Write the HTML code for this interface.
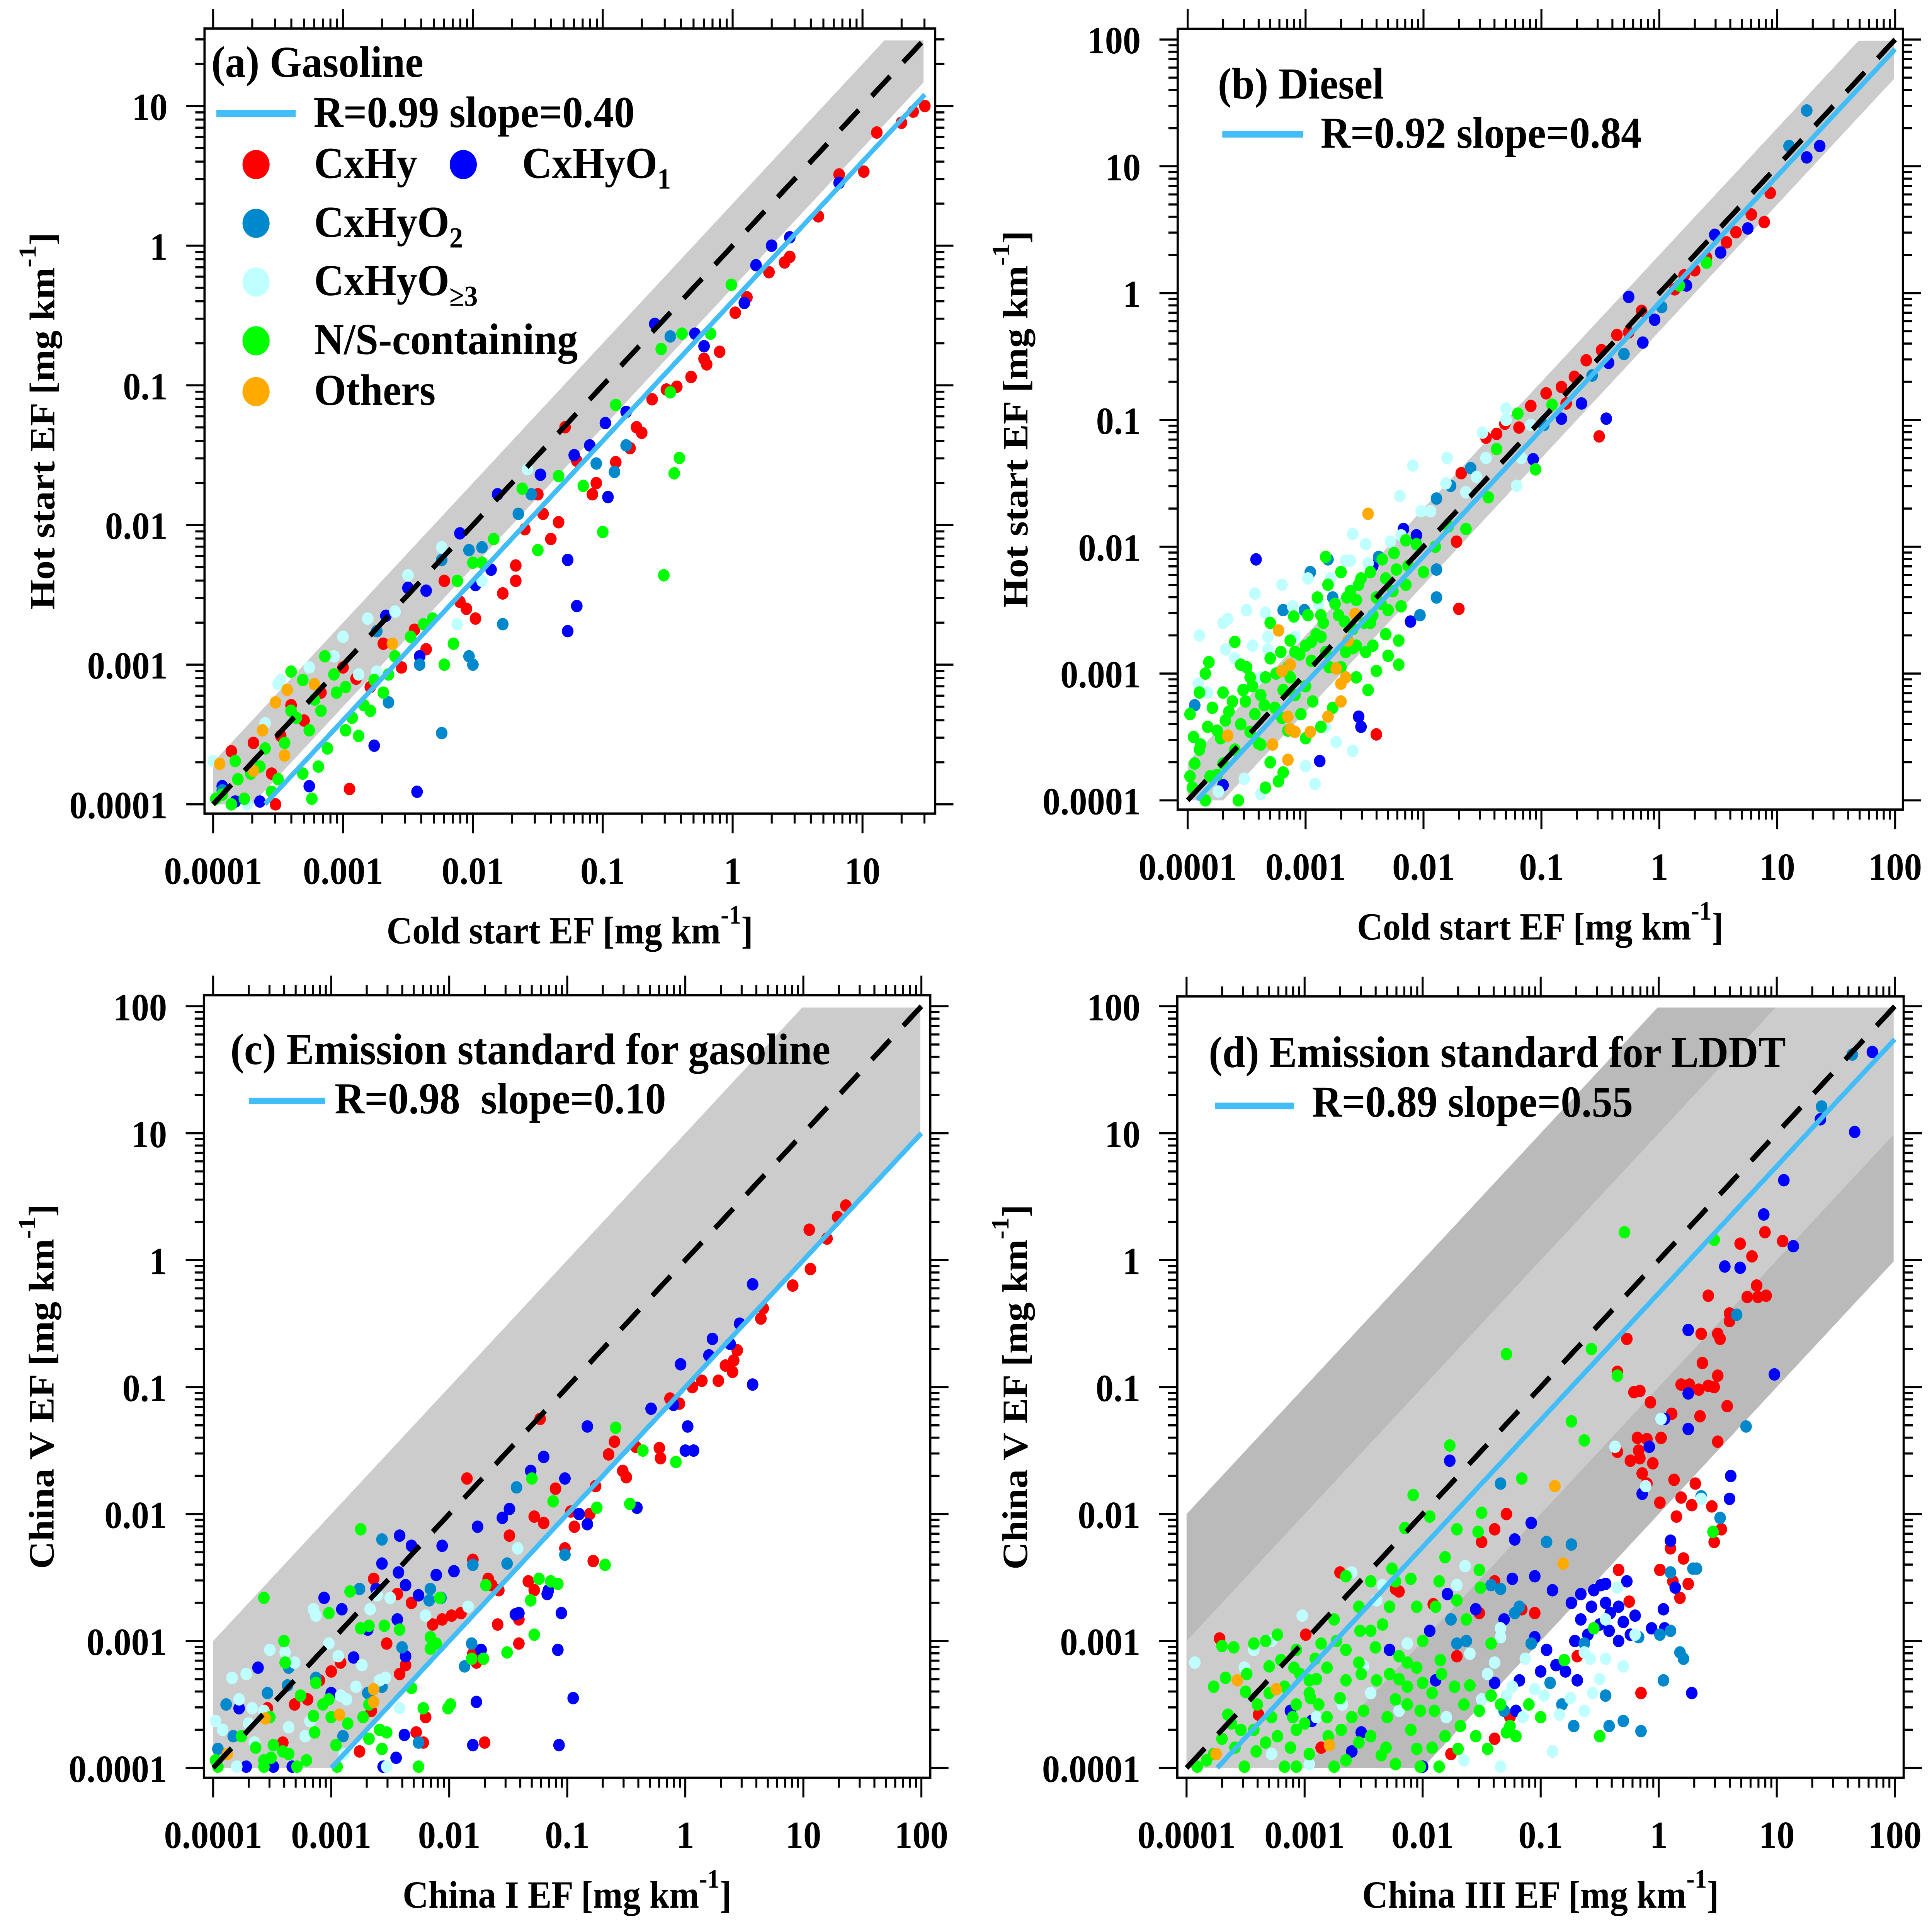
<!DOCTYPE html>
<html><head><meta charset="utf-8"><title>Hot vs cold start and emission standard EF comparison</title>
<style>
html,body{margin:0;padding:0;background:#fff;width:100%;height:100%;overflow:hidden;}
svg#chart{display:block;position:fixed;left:0;top:0;width:100vw;height:100vh;}
text{font-family:"Liberation Serif","Times New Roman",serif;font-weight:bold;fill:#000;}
</style></head>
<body>
<svg id="chart" xmlns="http://www.w3.org/2000/svg" viewBox="0 0 1568 1458" preserveAspectRatio="none">
<rect x="0" y="0" width="1568" height="1458" fill="#fff"/>
<g id="plots"></g>
<g id="legends">
  <text x="171.5" y="58" font-size="33.5">(a) Gasoline</text>
  <line x1="175.6" y1="85.6" x2="240" y2="85.6" stroke="#42bdf8" stroke-width="5"/>
  <text x="254.5" y="96" font-size="33.5">R=0.99 slope=0.40</text>
  <circle cx="207.8" cy="124.2" r="11" fill="#ff0000"/>
  <text x="254.9" y="134.3" font-size="33.5">CxHy</text>
  <circle cx="376" cy="124.2" r="11" fill="#0000ff"/>
  <text x="423.7" y="134.3" font-size="33.5">CxHyO<tspan font-size="22" dy="8">1</tspan></text>
  <circle cx="207.8" cy="168.5" r="11" fill="#0088cc"/>
  <text x="254.9" y="178.7" font-size="33.5">CxHyO<tspan font-size="22" dy="8">2</tspan></text>
  <circle cx="207.8" cy="212.9" r="11" fill="#c0ffff"/>
  <text x="254.9" y="222.8" font-size="33.5">CxHyO<tspan font-size="22" dy="8">≥3</tspan></text>
  <circle cx="207.8" cy="257.2" r="11" fill="#00ff00"/>
  <text x="254.9" y="267.2" font-size="33.5">N/S-containing</text>
  <circle cx="207.8" cy="295.5" r="11" fill="#ffaa00"/>
  <text x="254.9" y="305.6" font-size="33.5">Others</text>

  <text x="988.4" y="74.3" font-size="33.5">(b) Diesel</text>
  <line x1="992" y1="101.3" x2="1057.6" y2="101.3" stroke="#42bdf8" stroke-width="5"/>
  <text x="1071.8" y="111.5" font-size="33.5">R=0.92 slope=0.84</text>

  <text x="187" y="803" font-size="33.5">(c) Emission standard for gasoline</text>
  <line x1="201.9" y1="830.9" x2="264" y2="830.9" stroke="#42bdf8" stroke-width="5"/>
  <text x="271.6" y="840.2" font-size="33.5" xml:space="preserve">R=0.98  slope=0.10</text>

  <text x="981" y="805.3" font-size="33.5">(d) Emission standard for LDDT</text>
  <line x1="986" y1="834.6" x2="1050" y2="834.6" stroke="#42bdf8" stroke-width="5"/>
  <text x="1064.8" y="842.7" font-size="33.5">R=0.89 slope=0.55</text>
</g>
</svg>
<script>
// ---------- DATA (log10 of EF values, mg km-1) ----------
const tickLabels = ['0.0001','0.001','0.01','0.1','1','10','100'];
const categoryNames = ['cxhy','cxhyo1','cxhyo2','cxhyo3','ns-containing','others'];
const categoryColors = ['#ff0000','#0000ff','#0088cc','#c0ffff','#00ff00','#ffaa00'];
const fitSlopes = [0.40, 0.84, 0.10, 0.55];
const fitStartLogX = [-3.6, -3.92, -3.0, -3.74];
const axisMaxLog = [1.56, 2.08, 2.08, 2.08];
const xTitles = ['Cold start EF [mg km', 'Cold start EF [mg km', 'China I EF [mg km', 'China III EF [mg km'];
const yTitles = ['Hot start EF [mg km', 'Hot start EF [mg km', 'China V EF [mg km', 'China V EF [mg km'];

// Panel (a) Gasoline
const aCxHy = [[1.48,1.0],[1.39,0.96],[1.3,0.88],[1.11,0.81],[1.01,0.53],[0.82,0.51],[0.66,0.21],[0.44,-0.08],[0.4,-0.12],[0.28,-0.19],[0.11,-0.37],[0.02,-0.48],[-0.1,-0.76],[-0.22,-0.81],[-0.32,-0.94],[-0.2,-0.85],[-0.43,-1.01],[-0.51,-1.03],[-0.7,-1.34],[-0.74,-1.3],[-0.79,-1.45],[-1.05,-1.7],[-1.08,-1.78],[-1.2,-1.54],[-1.29,-1.3],[-1.34,-1.98],[-1.46,-1.92],[-1.5,-1.78],[-1.6,-2.03],[-1.67,-2.4],[-1.67,-2.29],[-1.77,-2.49],[-1.98,-2.67],[-2.05,-2.6],[-2.22,-2.4],[-2.36,-2.89],[-2.55,-3.02],[-2.69,-2.85],[-2.79,-3.16],[-2.95,-3.89],[-3.0,-3.02],[-3.17,-3.2],[-3.4,-3.29],[-3.55,-3.78],[-3.69,-3.56],[-3.86,-3.62],[-3.52,-4.0],[-3.48,-3.51],[-0.62,-1.1],[-0.9,-1.55],[-1.4,-2.1],[-2.1,-2.55],[-2.45,-2.75],[-2.9,-3.1],[-3.3,-3.4]];
const aCxHyO1 = [[0.82,0.45],[0.44,0.06],[0.3,0.0],[0.18,-0.14],[0.09,-0.41],[-0.22,-0.72],[-0.29,-0.63],[-0.6,-0.56],[-0.82,-1.19],[-0.98,-1.27],[-1.1,-1.43],[-1.22,-1.5],[-1.27,-2.25],[-1.2,-2.58],[-1.27,-2.76],[-0.96,-1.8],[-1.48,-1.64],[-1.81,-1.78],[-1.86,-2.32],[-2.1,-2.06],[-1.98,-2.43],[-2.36,-2.47],[-2.5,-2.45],[-2.67,-2.65],[-2.41,-2.94],[-2.43,-3.91],[-2.76,-3.58],[-2.93,-3.38],[-3.93,-3.87],[-3.83,-3.98],[-3.26,-3.87],[-3.64,-3.98]];
const aCxHyO2 = [[-0.48,-0.65],[-0.82,-1.43],[-0.91,-1.62],[-1.05,-1.56],[-1.55,-1.78],[-1.65,-1.92],[-1.93,-2.16],[-2.03,-2.18],[-2.24,-2.25],[-2.0,-3.0],[-2.03,-2.94],[-2.24,-3.49],[-2.65,-3.27],[-2.41,-3.0],[-1.77,-2.71],[-2.74,-2.76],[-3.93,-3.9]];
const aCxHyO3 = [[-1.58,-1.6],[-2.24,-2.16],[-2.5,-2.36],[-2.81,-2.67],[-3.0,-2.8],[-3.07,-2.94],[-3.26,-3.02],[-3.48,-3.11],[-3.5,-3.14],[-2.88,-3.07],[-2.12,-2.71],[-4.0,-3.69],[-3.74,-4.0],[-3.6,-3.42],[-2.74,-3.05],[-2.6,-2.62],[-1.93,-2.4]];
const aNS = [[-0.01,-0.28],[-0.17,-0.63],[-0.39,-0.63],[-0.48,-1.05],[-0.55,-0.74],[-0.9,-1.14],[-0.41,-1.52],[-0.45,-1.63],[-0.53,-2.36],[-1.0,-2.05],[-1.15,-1.72],[-1.5,-2.18],[-1.62,-1.74],[-1.34,-1.65],[-1.84,-2.1],[-1.93,-2.27],[-2.0,-2.27],[-2.12,-2.4],[-2.15,-2.85],[-2.22,-3.0],[-2.31,-2.67],[-2.38,-2.71],[-2.48,-2.8],[-2.6,-2.94],[-2.65,-3.07],[-2.76,-3.11],[-2.84,-3.29],[-2.93,-3.38],[-2.98,-3.47],[-3.07,-3.07],[-3.12,-3.6],[-3.17,-3.33],[-3.22,-3.25],[-3.26,-3.47],[-3.31,-3.78],[-3.36,-3.38],[-3.4,-3.05],[-3.45,-3.56],[-3.5,-3.82],[-3.55,-3.91],[-3.6,-3.6],[-3.64,-3.73],[-3.71,-3.78],[-3.76,-3.96],[-3.81,-3.82],[-3.86,-4.0],[-3.93,-3.93],[-3.98,-3.96],[-3.83,-3.69],[-3.24,-3.96],[-3.19,-3.73],[-3.05,-3.2],[-2.98,-3.16],[-2.88,-3.51],[-2.79,-3.33],[-2.69,-3.2],[-3.4,-3.33],[-3.31,-3.11],[-3.14,-2.94]];
const aOthers = [[-3.52,-3.27],[-3.43,-3.18],[-3.22,-3.14],[-3.95,-3.71],[-3.62,-3.47],[-3.45,-3.65],[-2.62,-2.85],[-3.69,-3.76]];

// Panel (b) Diesel
const bCxHy = [[0.94,0.79],[0.78,0.62],[0.89,0.56],[0.65,0.48],[0.57,0.4],[0.4,0.28],[0.3,0.18],[0.21,0.14],[0.13,0.03],[-0.15,-0.14],[-0.26,-0.31],[-0.36,-0.33],[-0.49,-0.45],[-0.62,-0.53],[-0.72,-0.66],[-0.83,-0.74],[-0.79,-0.87],[-0.96,-0.79],[-1.09,-0.89],[-0.51,-1.13],[-1.31,-1.03],[-1.38,-1.11],[-1.47,-1.14],[-1.19,-1.06],[-1.68,-1.42],[-1.72,-1.96],[-1.7,-2.49],[-2.4,-3.48]];
const bCxHyO1 = [[1.36,1.16],[1.25,1.07],[0.75,0.51],[0.47,0.46],[0.52,0.32],[0.23,0.06],[-0.04,-0.21],[-0.26,-0.03],[-0.14,-0.39],[-0.43,-0.55],[-0.66,-0.87],[-0.45,-0.99],[-0.83,-0.99],[-1.07,-1.31],[-2.06,-1.91],[-2.17,-1.86],[-2.43,-2.15],[-2.11,-2.59],[-2.53,-3.42],[-2.55,-3.34],[-3.42,-2.1],[-3.7,-3.88],[-2.88,-3.69]];
const bCxHyO2 = [[1.25,1.44],[1.1,1.16],[0.02,-0.11],[-0.3,-0.48],[-0.57,-0.65],[-0.98,-1.04],[-1.6,-1.38],[-1.77,-1.52],[-1.89,-1.62],[-1.89,-2.18],[-1.89,-2.4],[-2.38,-2.08],[-2.03,-2.54],[-2.77,-2.4],[-3.94,-3.25],[-3.19,-2.5],[-3.01,-2.5],[-2.96,-2.2],[-2.81,-2.1]];
const bCxHyO3 = [[-1.3,-0.91],[-1.09,-1.04],[-1.17,-1.3],[-1.21,-1.52],[-1.47,-1.3],[-1.55,-1.45],[-1.64,-1.57],[-1.81,-1.5],[-2.09,-1.36],[-2.02,-1.72],[-1.94,-1.72],[-2.19,-1.91],[-2.28,-1.96],[-2.47,-2.13],[-2.49,-1.98],[-2.66,-2.11],[-2.62,-2.11],[-2.79,-2.25],[-2.6,-3.61],[-3.32,-2.81],[-3.38,-3.03],[-3.45,-2.78],[-3.34,-2.52],[-3.43,-2.37],[-3.68,-2.81],[-3.66,-2.57],[-3.6,-2.88],[-3.74,-3.93],[-3.38,-3.95],[-3.52,-3.83],[-3.91,-3.08],[-3.83,-3.15],[-3.11,-2.47],[-2.89,-2.45],[-2.98,-2.25],[-3.09,-2.71],[-3.32,-2.71],[-2.83,-3.42],[-3.0,-3.73],[-2.92,-3.87],[-2.74,-3.54],[-3.9,-2.7],[-3.7,-2.6],[-3.5,-2.5],[-3.2,-2.3],[-2.6,-1.9],[-2.2,-1.6],[-1.8,-1.3],[-1.5,-1.1],[-1.3,-1.0]];
const bNS = [[0.4,0.24],[0.17,0.06],[-0.91,-0.88],[-1.2,-0.95],[-1.05,-1.39],[-1.38,-1.23],[-1.45,-1.61],[-1.64,-1.86],[-1.79,-1.84],[-2.06,-1.98],[-2.13,-2.15],[-2.23,-2.18],[-2.32,-2.25],[-2.15,-2.3],[-2.26,-2.35],[-2.19,-2.47],[-2.36,-2.45],[-2.43,-2.54],[-2.53,-2.25],[-2.57,-2.42],[-2.62,-2.35],[-2.67,-2.59],[-2.72,-2.54],[-2.83,-2.08],[-2.81,-2.3],[-2.87,-2.54],[-2.91,-2.69],[-2.83,-2.83],[-2.66,-2.83],[-2.57,-2.78],[-2.49,-2.83],[-2.43,-2.78],[-2.32,-2.69],[-2.21,-2.74],[-2.21,-2.93],[-2.3,-2.86],[-2.4,-2.98],[-2.47,-3.13],[-2.57,-3.03],[-2.77,-3.27],[-2.87,-3.42],[-2.94,-3.22],[-3.0,-3.51],[-3.04,-3.32],[-3.09,-3.17],[-3.13,-3.03],[-3.09,-2.83],[-3.0,-2.78],[-3.13,-2.74],[-3.19,-3.13],[-3.26,-3.27],[-3.3,-2.88],[-3.34,-3.03],[-3.38,-3.17],[-3.43,-3.32],[-3.19,-3.78],[-3.23,-3.85],[-3.34,-3.9],[-3.38,-3.56],[-3.47,-3.46],[-3.55,-2.93],[-3.53,-3.13],[-3.62,-3.22],[-3.68,-3.37],[-3.72,-3.51],[-3.79,-3.27],[-3.83,-3.42],[-3.89,-3.56],[-3.94,-3.71],[-3.98,-3.81],[-3.96,-3.9],[-3.85,-4.0],[-3.81,-3.81],[-3.7,-3.71],[-3.57,-4.0],[-3.82,-2.91],[-3.98,-3.32],[-3.51,-3.22],[-3.47,-3.03],[-2.98,-2.54],[-3.21,-2.83],[-2.87,-2.71],[-2.6,-2.65],[-2.7,-2.95],[-2.5,-2.6],[-2.0,-2.2],[-1.9,-2.0],[-2.4,-2.4],[-2.95,-2.9],[-3.15,-3.45],[-3.6,-3.6],[-3.3,-3.7],[-3.9,-3.6],[-3.75,-3.45],[-3.65,-3.3],[-3.55,-3.4],[-3.45,-3.1],[-3.35,-3.25],[-3.25,-3.0],[-3.15,-2.95],[-3.05,-2.85],[-2.95,-2.75],[-2.85,-2.6],[-2.75,-2.45],[-2.65,-2.4],[-2.55,-2.3],[-2.45,-2.2],[-2.35,-2.1],[-2.25,-2.05],[-2.15,-1.95],[-3.7,-3.15],[-3.5,-2.95],[-3.3,-2.6],[-3.1,-2.55],[-2.9,-2.4],[-2.7,-2.2],[-3.85,-3.0],[-3.6,-2.75],[-3.4,-3.55],[-3.2,-3.35],[-3.0,-3.1],[-2.8,-2.95],[-2.6,-2.8],[-2.45,-2.6],[-2.3,-2.5],[-3.95,-3.5],[-3.75,-3.8],[-3.9,-3.15]];
const bOthers = [[-2.47,-1.74],[-2.58,-2.53],[-2.64,-2.74],[-2.74,-2.96],[-2.7,-3.08],[-2.66,-3.03],[-2.7,-3.22],[-2.81,-3.34],[-2.96,-3.46],[-3.13,-2.93],[-3.2,-2.98],[-3.15,-3.34],[-3.09,-3.46],[-3.15,-3.68],[-3.28,-3.56],[-3.66,-3.49],[-3.23,-2.66],[-3.13,-3.44]];

// Panel (c) Emission standard for gasoline
const cCxHy = [[1.36,0.43],[1.29,0.34],[1.2,0.17],[1.05,0.24],[1.06,-0.07],[0.91,-0.2],[0.66,-0.38],[0.64,-0.46],[0.44,-0.71],[0.41,-0.79],[0.4,-0.88],[0.34,-0.83],[0.28,-0.95],[0.14,-0.95],[0.06,-1.0],[-0.05,-1.13],[-0.13,-1.09],[-0.21,-1.56],[-0.22,-1.48],[-0.42,-1.47],[-0.5,-1.71],[-0.53,-1.66],[-0.6,-1.43],[-0.65,-1.53],[-0.76,-1.78],[-0.81,-2.0],[-0.78,-2.37],[-0.94,-2.1],[-0.97,-1.98],[-1.02,-2.27],[-1.1,-1.8],[-1.2,-2.07],[-1.28,-2.02],[-1.33,-2.53],[-1.28,-2.6],[-1.41,-3.02],[-1.41,-2.83],[-1.49,-2.17],[-1.58,-2.6],[-1.59,-2.87],[-1.64,-2.56],[-1.67,-2.51],[-1.7,-3.8],[-1.77,-3.17],[-1.8,-3.1],[-1.85,-1.72],[-1.8,-2.36],[-1.9,-2.78],[-1.98,-2.8],[-2.06,-2.83],[-2.14,-2.87],[-2.2,-3.6],[-2.22,-3.8],[-2.28,-3.72],[-2.32,-2.7],[-2.37,-3.19],[-2.42,-3.26],[-2.44,-2.63],[-2.53,-3.02],[-2.64,-2.51],[-2.68,-3.41],[-2.76,-3.87],[-2.66,-3.55],[-2.92,-3.17],[-3.0,-3.24],[-3.2,-3.46],[-3.31,-3.5],[-3.41,-3.8],[-3.54,-3.53],[-3.1,-3.31],[-1.23,-1.25]];
const cCxHyO1 = [[0.57,-0.19],[0.46,-0.5],[0.38,-0.66],[0.23,-0.62],[0.2,-0.75],[-0.04,-0.82],[-0.1,-1.14],[-0.29,-1.17],[0.02,-1.31],[0.0,-1.5],[0.07,-1.5],[-0.41,-1.95],[0.57,-0.98],[-0.83,-1.31],[-0.9,-2.0],[-0.83,-2.08],[-1.02,-1.72],[-1.16,-2.6],[-1.2,-1.55],[-1.31,-1.66],[-1.49,-1.96],[-1.55,-2.03],[-1.76,-2.1],[-1.41,-2.78],[-1.17,-2.63],[-1.05,-2.78],[-1.08,-3.07],[-1.07,-3.82],[-0.95,-3.45],[-1.44,-2.79],[-1.73,-3.07],[-1.77,-3.48],[-1.8,-3.82],[-1.96,-2.45],[-2.06,-2.25],[-2.11,-2.48],[-2.26,-2.64],[-2.32,-2.25],[-2.37,-2.56],[-2.42,-2.17],[-2.43,-2.46],[-2.37,-3.12],[-2.44,-2.83],[-2.57,-2.39],[-2.62,-2.59],[-2.69,-2.91],[-2.81,-3.13],[-2.91,-2.75],[-3.06,-2.66],[-3.0,-3.41],[-2.45,-3.92],[-2.56,-3.99],[-2.38,-3.74],[-3.33,-3.99],[-3.49,-3.99],[-3.72,-3.99],[-3.78,-3.53],[-3.62,-3.21]];
const cCxHyO2 = [[-1.43,-1.79],[-1.51,-2.39],[-1.8,-2.4],[-1.87,-3.2],[-2.07,-2.66],[-2.16,-2.59],[-2.26,-3.8],[-2.4,-3.05],[-2.57,-2.2],[-2.57,-3.36],[-2.69,-3.41],[-2.76,-2.59],[-2.9,-3.75],[-3.37,-3.35],[-3.54,-3.41],[-3.83,-3.75],[-3.89,-3.5],[-3.96,-3.85],[-3.36,-3.21],[-3.13,-3.29],[-1.02,-2.32],[-1.81,-3.02],[-2.17,-2.68]];
const cCxHyO3 = [[-3.98,-3.63],[-3.92,-3.7],[-3.84,-3.29],[-3.72,-3.26],[-3.78,-3.46],[-3.7,-3.65],[-3.65,-3.8],[-3.8,-3.99],[-3.67,-3.53],[-3.57,-3.55],[-3.52,-3.07],[-3.39,-3.09],[-3.31,-3.17],[-3.15,-2.75],[-3.13,-2.8],[-3.02,-3.02],[-2.94,-3.12],[-2.92,-3.43],[-2.87,-3.46],[-2.79,-3.36],[-2.74,-3.19],[-2.67,-2.75],[-2.61,-2.64],[-2.5,-2.66],[-2.54,-3.29],[-2.59,-3.31],[-2.42,-3.53],[-2.2,-2.8],[-2.13,-3.02],[-2.53,-3.99],[-2.89,-3.89],[-3.22,-3.75],[-1.42,-2.27],[-1.84,-2.73],[-3.36,-3.68],[-3.18,-3.63]];
const cNS = [[-0.59,-1.32],[-0.08,-1.59],[-0.47,-1.92],[-0.75,-1.95],[-0.68,-2.4],[-0.36,-1.5],[-1.12,-1.9],[-1.3,-1.72],[-1.24,-2.51],[-1.14,-2.53],[-1.08,-2.55],[-1.31,-2.68],[-1.28,-2.95],[-1.51,-3.09],[-1.69,-2.56],[-1.71,-3.14],[-1.81,-3.14],[-1.99,-3.5],[-2.01,-3.53],[-2.11,-3.02],[-2.16,-2.97],[-2.08,-2.66],[-2.22,-3.53],[-2.26,-3.99],[-2.57,-3.85],[-2.53,-3.72],[-2.59,-3.7],[-2.68,-3.77],[-2.73,-3.6],[-2.86,-3.65],[-2.84,-2.61],[-2.95,-3.99],[-2.96,-3.82],[-3.0,-3.6],[-3.02,-3.46],[-3.13,-3.33],[-3.14,-3.72],[-3.21,-3.94],[-3.29,-3.99],[-3.36,-3.89],[-3.41,-3.87],[-3.49,-3.82],[-3.51,-3.92],[-3.57,-3.99],[-3.57,-3.94],[-3.39,-3.17],[-3.4,-3.0],[-3.52,-3.6],[-3.64,-3.84],[-3.76,-3.75],[-3.98,-3.94],[-3.96,-3.99],[-3.57,-2.66],[-3.15,-3.59],[-3.07,-3.5],[-2.75,-2.9],[-2.68,-2.88],[-2.55,-2.88],[-2.42,-2.91],[-2.75,-2.12],[-2.32,-3.37],[-2.16,-3.06],[-3.02,-2.78],[-3.26,-3.43],[-2.68,-3.5]];
const cOthers = [[-2.64,-3.38],[-2.64,-3.48],[-2.93,-3.58],[-3.56,-3.61],[-3.88,-3.89]];

// Panel (d) Emission standard for LDDT
const dCxHy = [[1.05,0.15],[0.9,0.22],[0.79,0.03],[0.69,0.13],[0.83,-0.2],[0.91,-0.28],[0.75,-0.29],[0.84,-0.29],[0.6,-0.42],[0.6,-0.48],[0.5,-0.58],[0.52,-0.62],[0.42,-0.28],[0.36,-0.58],[0.37,-0.81],[0.5,-0.91],[0.42,-0.99],[0.47,-1.0],[0.58,-1.15],[0.5,-1.43],[0.34,-1.02],[0.26,-0.98],[0.19,-0.98],[0.35,-1.23],[0.11,-1.21],[0.02,-1.4],[-0.1,-1.41],[-0.18,-1.4],[-0.17,-1.5],[-0.07,-1.12],[-0.16,-1.56],[-0.05,-1.6],[-0.1,-1.76],[-0.14,-1.68],[-0.24,-1.58],[-0.16,-1.03],[-0.21,-1.04],[-0.27,-0.62],[-0.35,-0.88],[0.01,-1.91],[0.13,-1.73],[0.19,-1.87],[0.31,-1.76],[0.28,-1.93],[0.45,-1.94],[0.47,-2.22],[0.53,-2.12],[0.15,-2.02],[0.21,-2.35],[0.1,-2.27],[0.18,-2.66],[0.25,-2.55],[0.12,-2.53],[0.01,-2.44],[-0.25,-2.69],[-0.34,-2.44],[-0.15,-3.41],[-0.69,-3.12],[-0.9,-3.87],[-1.05,-2.78],[-1.26,-3.6],[-1.52,-2.78],[-1.16,-2.75],[-1.39,-3.77],[-1.29,-2.0],[-1.5,-2.22],[-1.39,-2.53],[-1.39,-2.12],[-0.35,-1.51],[-2.2,-2.61],[-3.72,-2.98],[-3.39,-3.58],[-2.99,-2.95],[-2.7,-2.46],[-2.23,-2.59],[-2.86,-3.84],[-1.91,-2.71],[-1.71,-3.12],[-1.76,-3.89]];
const dCxHyO1 = [[1.81,1.64],[1.66,1.01],[1.37,1.11],[1.06,0.63],[0.89,0.36],[1.14,0.11],[0.69,-0.06],[0.56,-0.05],[0.25,-0.55],[0.98,-0.9],[0.25,-1.05],[0.25,-1.33],[-0.08,-1.47],[-0.14,-1.84],[0.05,-1.25],[0.61,-1.7],[0.6,-1.88],[0.1,-2.21],[0.14,-2.58],[0.04,-2.75],[0.28,-3.41],[-0.27,-2.53],[-0.49,-2.56],[-0.34,-2.73],[-0.45,-2.7],[-0.41,-2.78],[-0.5,-2.87],[-0.42,-2.92],[-0.34,-3.0],[-0.24,-2.95],[-0.06,-2.9],[-0.66,-2.83],[-0.57,-2.73],[-0.66,-2.63],[-0.74,-2.7],[-0.71,-3.0],[-0.79,-3.24],[-0.69,-3.31],[-0.87,-3.19],[-1.0,-3.24],[-0.95,-3.07],[-1.05,-2.97],[-1.18,-3.31],[-1.21,-3.55],[-1.08,-2.07],[-1.05,-2.49],[-1.22,-2.2],[-1.31,-2.83],[-1.55,-2.75],[-1.24,-2.51],[-1.39,-3.33],[-1.77,-1.58],[-2.52,-3.72],[-2.6,-3.87],[-2.94,-3.63],[-3.12,-3.55],[-2.28,-3.07],[-1.94,-2.92],[-1.89,-3.31],[-1.79,-2.63],[-2.0,-3.99],[-0.55,-2.6],[-0.45,-2.55],[-0.3,-2.85],[-0.2,-2.8],[-0.6,-2.95],[0.05,-2.9],[-0.9,-2.6]];
const dCxHyO2 = [[1.64,1.62],[1.38,1.21],[0.66,-0.43],[0.74,-1.31],[0.52,-2.03],[0.36,-1.86],[0.1,-2.46],[0.29,-2.43],[0.32,-2.43],[-0.17,-2.97],[0.01,-2.95],[0.1,-2.92],[0.18,-3.09],[0.21,-3.14],[0.04,-3.31],[-0.15,-3.71],[-0.3,-3.63],[-0.63,-3.02],[-0.45,-3.43],[-0.42,-3.67],[-0.72,-3.67],[-0.82,-3.5],[-0.92,-3.33],[-1.08,-3.02],[-1.31,-3.55],[-1.22,-2.78],[-1.42,-2.56],[-1.18,-2.73],[-1.63,-3.0],[-1.34,-2.59],[-1.34,-1.76],[-0.74,-2.24],[-0.95,-2.22],[-1.76,-2.83],[-1.71,-3.02]];
const dCxHyO3 = [[-0.45,-2.83],[-0.45,-3.14],[-0.56,-3.41],[-0.63,-3.55],[-0.63,-3.09],[-0.84,-3.58],[-0.9,-3.87],[-0.97,-3.43],[-1.05,-3.38],[-1.13,-3.14],[-1.24,-3.36],[-1.29,-3.43],[-1.34,-2.9],[-1.39,-3.17],[-1.34,-2.97],[-1.34,-3.99],[-1.45,-3.26],[-1.5,-3.46],[-1.64,-2.41],[-1.71,-2.56],[-2.34,-2.56],[-2.39,-2.68],[-3.43,-3.07],[-3.28,-3.0],[-3.51,-3.21],[-3.02,-2.8],[-3.93,-3.17],[-2.6,-2.46],[-2.96,-3.97],[-3.28,-3.89],[-2.68,-3.5],[-2.44,-3.41],[-2.13,-3.02],[-1.65,-3.94],[-0.11,-1.78],[0.36,-1.88],[0.02,-1.25],[-0.37,-1.47],[-0.35,-2.58],[-0.58,-3.14],[-2.5,-3.2],[-2.2,-3.55],[-1.8,-3.6],[-1.6,-3.1],[-1.15,-3.6],[-0.75,-3.45],[-0.5,-3.3],[-0.3,-3.2],[-0.2,-2.95],[-2.9,-3.6]];
const dNS = [[0.47,0.16],[-0.29,0.22],[-1.29,-0.74],[-0.57,-0.7],[-0.35,-0.91],[-0.74,-1.27],[-0.63,-1.42],[-1.16,-1.72],[-1.77,-1.46],[0.46,-2.14],[-1.29,-3.72],[-2.08,-1.85],[-2.15,-2.11],[-1.94,-2.02],[-1.71,-2.12],[-1.53,-2.14],[-1.5,-1.99],[-1.81,-2.34],[-1.52,-2.44],[-1.51,-2.58],[-2.0,-3.0],[-2.05,-2.73],[-1.86,-2.53],[-1.89,-2.73],[-1.71,-2.68],[-1.63,-2.83],[-2.23,-2.53],[-2.28,-2.73],[-2.34,-2.87],[-2.44,-2.92],[-2.53,-2.92],[-2.54,-3.17],[-2.65,-3.07],[-2.73,-3.0],[-2.81,-3.21],[-2.65,-3.31],[-2.52,-3.26],[-2.39,-3.31],[-2.28,-3.26],[-2.2,-3.12],[-2.13,-3.17],[-2.05,-3.21],[-2.0,-3.33],[-2.13,-3.36],[-2.23,-3.46],[-2.13,-3.5],[-2.02,-3.55],[-1.92,-3.41],[-1.84,-3.26],[-1.73,-3.36],[-1.65,-3.5],[-1.52,-3.55],[-1.42,-3.43],[-1.34,-3.5],[-1.26,-3.67],[-1.21,-3.75],[-1.55,-3.75],[-1.68,-3.67],[-1.81,-3.75],[-1.92,-3.84],[-2.02,-3.99],[-1.86,-3.99],[-2.23,-3.97],[-2.31,-3.84],[-2.44,-3.75],[-2.54,-3.8],[-2.65,-3.94],[-2.75,-3.99],[-2.69,-3.7],[-2.81,-3.6],[-2.88,-3.5],[-2.96,-3.41],[-2.96,-3.31],[-3.04,-3.26],[-3.07,-3.5],[-3.07,-3.7],[-3.12,-3.84],[-3.17,-3.99],[-3.07,-3.99],[-2.96,-3.89],[-3.23,-3.75],[-3.28,-3.6],[-3.33,-3.8],[-3.41,-3.87],[-3.51,-3.99],[-3.59,-3.84],[-3.7,-3.77],[-3.77,-3.89],[-3.83,-3.94],[-3.91,-3.99],[-3.62,-3.65],[-3.54,-3.7],[-3.43,-3.7],[-3.3,-3.41],[-3.17,-3.36],[-3.09,-3.21],[-2.91,-3.14],[-2.86,-3.02],[-2.75,-2.83],[-2.54,-2.73],[-3.65,-3.58],[-3.43,-3.02],[-3.33,-3.0],[-3.23,-2.95],[-3.07,-3.07],[-3.67,-3.29],[-3.7,-3.04],[-3.49,-3.26],[-3.6,-3.05],[-3.77,-3.36],[-2.65,-2.49],[-2.44,-2.53],[-2.26,-2.43],[-2.1,-2.51],[-1.42,-3.02],[-0.8,-3.15],[-0.55,-2.9],[-1.0,-3.6],[-0.5,-3.75],[-3.5,-3.4],[-3.3,-3.2],[-3.1,-3.6],[-2.9,-3.3],[-2.7,-3.45],[-2.5,-3.55],[-2.3,-3.6],[-2.1,-3.7],[-1.9,-3.55],[-1.7,-3.85],[-1.6,-3.35],[-2.4,-3.05],[-2.6,-3.6],[-2.8,-3.75],[-3.0,-3.65],[-3.2,-3.15],[-3.4,-3.5],[-2.2,-3.3],[-2.05,-3.85],[-1.85,-3.15],[-2.35,-3.9],[-2.95,-3.45],[-1.45,-3.85],[-1.1,-3.5]];
const dOthers = [[-0.88,-1.78],[-0.81,-2.39],[-3.57,-3.31],[-3.24,-3.38],[-2.79,-3.82],[-3.75,-3.89]];

const panelSeries = [
  [aCxHy, aCxHyO1, aCxHyO2, aCxHyO3, aNS, aOthers],
  [bCxHy, bCxHyO1, bCxHyO2, bCxHyO3, bNS, bOthers],
  [cCxHy, cCxHyO1, cCxHyO2, cCxHyO3, cNS, cOthers],
  [dCxHy, dCxHyO1, dCxHyO2, dCxHyO3, dNS, dOthers]
];
const bandFactors = [[0.301], [0.301], [1], [2, 1]];
const bandColors = [['#cccccc'], ['#cccccc'], ['#cccccc'], ['#bababa', '#cccccc']];

// ---------- LAYOUT ----------
const layouts = [
  {id:'a', L:166, R:759, T:21.5, B:614, x0:173, y0:607, dec:105.4},
  {id:'b', L:955.8, R:1544.4, T:21.8, B:611, x0:963.9, y0:604, dec:95.7},
  {id:'c', L:165.5, R:755, T:751, B:1341.6, x0:173, y0:1334.2, dec:95.8},
  {id:'d', L:955.5, R:1545, T:751.9, B:1341.6, x0:963, y0:1334.2, dec:95.8}
];

const NS = 'http://www.w3.org/2000/svg';
const plots = document.getElementById('plots');
function mk(tag, attrs, parent) {
  const e = document.createElementNS(NS, tag);
  for (const k in attrs) e.setAttribute(k, attrs[k]);
  parent.appendChild(e);
  return e;
}

layouts.forEach(function (lay, p) {
  const maxL = axisMaxLog[p];
  const xs = function (lv) { return lay.x0 + (lv + 4) * lay.dec; };
  const ys = function (lv) { return lay.y0 - (lv + 4) * lay.dec; };
  const g = mk('g', {}, plots);
  
  

  bandFactors[p].forEach(function (f, bi) {
    const top = Math.min(2, maxL - 0.09);
    const pts = [[-4,-4],[-4,-4+f],[top-f,top],[top,top],[top,top-f],[-4+f,-4]];
    const poly = mk('polygon', {points: pts.map(function (q) { return xs(q[0]) + ',' + ys(q[1]); }).join(' '), fill: bandColors[p][bi]}, g);
    
    
  });

  const pg = mk('g', {}, g);
  
  
  panelSeries[p].forEach(function (series, ci) {
    series.forEach(function (pt) {
      const c = mk('circle', {cx: xs(pt[0]), cy: ys(pt[1]), r: 4.7, fill: categoryColors[ci]}, pg);
      
      
    });
  });

  const lineEnd = Math.min(2, maxL - 0.08);
  const dl = mk('line', {x1: xs(-4), y1: ys(-4), x2: xs(lineEnd), y2: ys(lineEnd), stroke: '#000', 'stroke-width': 4, 'stroke-dasharray': '21 15'}, g);
  
  

  const b = Math.log10(fitSlopes[p]);
  const fx1 = fitStartLogX[p];
  const fl = mk('line', {x1: xs(fx1), y1: ys(fx1 + b), x2: xs(lineEnd), y2: ys(lineEnd + b), stroke: '#42bdf8', 'stroke-width': 3.8}, g);
  
  

  const fr = mk('rect', {x: lay.L, y: lay.T, width: lay.R - lay.L, height: lay.B - lay.T, fill: 'none', stroke: '#000', 'stroke-width': 1.8}, g);
  
  

  const tg = mk('g', {stroke: '#000', 'stroke-width': 1.6}, g);
  
  
  for (let d = -4; d <= Math.floor(maxL); d++) {
    for (let m = 1; m <= 9; m++) {
      const lv = d + Math.log10(m);
      if (lv > maxL) continue;
      const len = (m === 1) ? 14.8 : 7.5;
      const X = xs(lv), Y = ys(lv);
      mk('line', {x1: X, y1: lay.B, x2: X, y2: lay.B + len}, tg);
      mk('line', {x1: X, y1: lay.T, x2: X, y2: lay.T - len}, tg);
      mk('line', {x1: lay.L, y1: Y, x2: lay.L - len, y2: Y}, tg);
      mk('line', {x1: lay.R, y1: Y, x2: lay.R + len, y2: Y}, tg);
    }
  }

  for (let d = -4; d <= Math.floor(maxL); d++) {
    const lbl = tickLabels[d + 4];
    const tx = mk('text', {x: xs(d), y: lay.B + 53, 'font-size': 29, 'text-anchor': 'middle'}, g);
    tx.textContent = lbl;
    
    
    const ty = mk('text', {x: lay.L - 30, y: ys(d) + 10.5, 'font-size': 29, 'text-anchor': 'end'}, g);
    ty.textContent = lbl;
    
    
  }

  const cx = (lay.L + lay.R) / 2, cy = (lay.T + lay.B) / 2;
  const xt = mk('text', {x: cx, y: lay.B + 98, 'font-size': 29, 'text-anchor': 'middle'}, g);
  
  
  xt.appendChild(document.createTextNode(xTitles[p]));
  const s1 = mk('tspan', {'font-size': 20, dy: -15}, xt); s1.textContent = '-1';
  const s2 = mk('tspan', {dy: 15}, xt); s2.textContent = ']';

  const yt = mk('text', {x: 0, y: 0, 'font-size': 29, 'text-anchor': 'middle', transform: 'translate(' + (lay.L - 122) + ',' + cy + ') rotate(-90)'}, g);
  
  
  yt.appendChild(document.createTextNode(yTitles[p]));
  const s3 = mk('tspan', {'font-size': 20, dy: -15}, yt); s3.textContent = '-1';
  const s4 = mk('tspan', {dy: 15}, yt); s4.textContent = ']';
});
</script>
</body></html>
